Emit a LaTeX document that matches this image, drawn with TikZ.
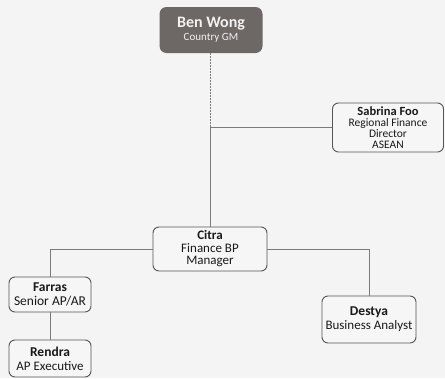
\documentclass[tikz,border=0pt]{standalone}
\usepackage{fontspec}
\setmainfont{Carlito}
\definecolor{bg}{HTML}{F4F4F4}
\definecolor{boxfill}{HTML}{F6F6F6}
\definecolor{boxline}{HTML}{555555}
\definecolor{conn}{HTML}{7A7A7A}
\definecolor{gmfill}{HTML}{6D6866}
\definecolor{gmtext}{HTML}{F2F2F2}
\begin{document}
\begin{tikzpicture}[x=1pt,y=-1pt,
  person/.style={draw=boxline, line width=0.9pt, fill=boxfill, rounded corners=6pt,
     align=center, inner sep=0pt, text=black!90},
  gm/.style={fill=gmfill, rounded corners=7pt, align=center, inner sep=0pt, text=gmtext},
  link/.style={draw=conn, line width=0.9pt},
  dlink/.style={draw=conn, line width=0.9pt, dash pattern=on 1.6pt off 1.4pt}]
\fill[bg] (0,0) rectangle (445,378);
\useasboundingbox (0,0) rectangle (445,378);

\node[gm, minimum width=103pt, minimum height=46pt, font=\fontsize{11}{12}\selectfont] (ben) at (211,30)
  {{\fontsize{16}{16}\selectfont\bfseries Ben Wong}\\[1pt]Country GM};

\node[person, minimum width=111pt, minimum height=49pt, font=\fontsize{11.5}{11}\selectfont] (sab) at (388,127.5)
  {{\fontsize{12.5}{12}\selectfont\bfseries Sabrina Foo}\\[0.5pt]Regional Finance\\Director\\ASEAN};

\node[person, minimum width=114pt, minimum height=44pt, font=\fontsize{13}{12.5}\selectfont] (cit) at (210,249)
  {\textbf{Citra}\\Finance BP\\Manager};

\node[person, minimum width=82pt, minimum height=35pt, font=\fontsize{13.5}{14}\selectfont] (far) at (50,294.5)
  {\textbf{Farras}\\Senior AP/AR};

\node[person, minimum width=82pt, minimum height=37pt, font=\fontsize{13}{14}\selectfont] (ren) at (50,358.5)
  {{\fontsize{13.5}{14}\selectfont\bfseries Rendra}\\AP Executive};

\node[person, minimum width=94pt, minimum height=47pt, font=\fontsize{13}{14}\selectfont] (des) at (369,319.5)
  {{\fontsize{13.5}{14}\selectfont\bfseries Destya}\\Business Analyst};

\coordinate (j) at (cit.north |- sab.west);
\draw[dlink] (j |- ben.south) -- (j);
\draw[link] (j) -- (cit.north);
\draw[link] (j) -- (sab.west);
\draw[link] (cit.west) -| (far.north);
\draw[link] (cit.east) -| (des.north);
\draw[link] (far.south) -- (ren.north);
\end{tikzpicture}
\end{document}
